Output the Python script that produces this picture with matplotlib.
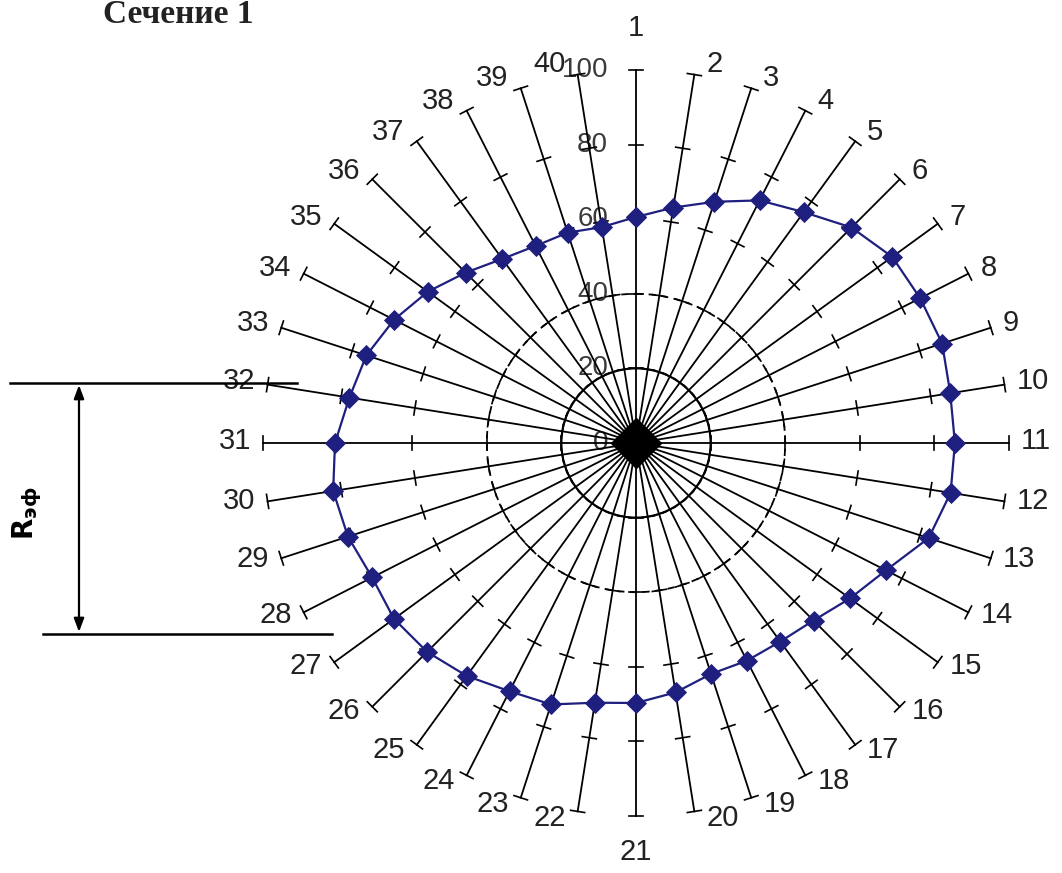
import numpy as np
import matplotlib.pyplot as plt
from matplotlib.lines import Line2D

# 40 направлений (лучей) и радиусы точек
categories = [str(i) for i in range(1, 41)]
values = [60.6, 63.9, 68.0, 73.0, 76.5, 81.7, 84.9, 85.5, 86.3, 85.3,
          85.5, 85.4, 82.5, 75.2, 70.9, 67.3, 65.8, 65.5, 65.1, 67.7,
          69.7, 70.5, 73.7, 74.7, 77.2, 79.2, 80.2, 79.4, 81.2, 82.2,
          80.7, 77.8, 76.0, 72.8, 69.0, 64.6, 61.0, 59.3, 59.3, 58.6]
tick_levels = [0, 20, 40, 60, 80, 100]
tick_labels = ["0", "20", "40", "60", "80", "100"]

W, H = 1062, 873
px = 3.73          # пикселей на единицу
cx, cy = 636, 443  # центр диаграммы в пикселях
navy = "#1f1f7f"
font = "Liberation Sans"

n = len(values)
theta = np.deg2rad(np.arange(n) * 360 / n)
s, c = np.sin(theta), np.cos(theta)
vals = np.array(values)
rmax = tick_levels[-1]

fig = plt.figure(figsize=(W / 100, H / 100), dpi=100)
ax = fig.add_axes([0, 0, 1, 1])
ax.set_xlim(-cx / px, (W - cx) / px)
ax.set_ylim(-(H - cy) / px, cy / px)
ax.axis("off")

# лучи
for k in range(n):
    ax.plot([0, rmax * s[k]], [0, rmax * c[k]], color="black", lw=1.3, zorder=2)
    # засечки
    h = 1.9
    for r in tick_levels[1:]:
        ax.plot([r * s[k] - h * c[k], r * s[k] + h * c[k]],
                [r * c[k] + h * s[k], r * c[k] - h * s[k]],
                color="black", lw=1.2, zorder=2)

# сетка
t = np.linspace(0, 2 * np.pi, 400)
ax.plot(tick_levels[1] * np.sin(t), tick_levels[1] * np.cos(t), color="black", lw=1.5, zorder=2)
ax.plot(tick_levels[2] * np.sin(t), tick_levels[2] * np.cos(t), color="black", lw=1.3,
        dashes=(4, 3), zorder=2)

# подписи шкалы
for lev, lab in zip(tick_levels, tick_labels):
    ax.text(-7.5, lev, lab, ha="right", va="center", fontsize=20,
            family=font, color="#3a3a3a", zorder=1)

# данные
xs = np.append(vals * s, vals[0] * s[0])
ys = np.append(vals * c, vals[0] * c[0])
ax.plot(xs, ys, color=navy, lw=1.6, marker="D", ms=10, mew=0.6, zorder=4)
ax.plot(0, 0, marker="D", ms=25, color="black", zorder=5)

# номера лучей
gap = 12 / px
for k in range(n):
    ex, ey = rmax * s[k], rmax * c[k]
    if abs(s[k]) < 0.01:
        if c[k] > 0:
            ax.text(ex, ey + 7.5, categories[k], ha="center", va="bottom",
                    fontsize=21, family=font, color="#222222")
        else:
            ax.text(ex, ey - 6.0, categories[k], ha="center", va="top",
                    fontsize=21, family=font, color="#222222")
    else:
        ha = "left" if s[k] > 0 else "right"
        ax.text(ex + np.sign(s[k]) * gap, ey + 0.5 + 2.4 * c[k], categories[k],
                ha=ha, va="center", fontsize=21, family=font, color="#222222")

# заголовок
fig.text(103 / W, 1 - 23 / H, "Сечение 1", ha="left", va="baseline",
         fontsize=24, fontweight="bold", family="Liberation Serif", color="#222222")

# размер Rэф
def fp(x, y):
    return x / W, 1 - y / H

for (x0, y0), (x1, y1) in [((10, 383), (297, 383)), ((43, 634), (332, 634))]:
    a, b = fp(x0, y0), fp(x1, y1)
    fig.add_artist(Line2D([a[0], b[0]], [a[1], b[1]], color="black", lw=1.8))
fig.add_artist(plt.Annotation("", xy=fp(79, 385), xytext=fp(79, 632),
                              xycoords="figure fraction", textcoords="figure fraction",
                              arrowprops=dict(arrowstyle="<|-|>,head_length=0.8,head_width=0.3",
                                              color="black", lw=1.6, shrinkA=0, shrinkB=0)))
fig.text(*fp(27, 513), r"$\mathbf{R_{эф}}$", rotation=90, ha="center", va="center",
         fontsize=20, color="black")

fig.savefig("out.png", dpi=100)
